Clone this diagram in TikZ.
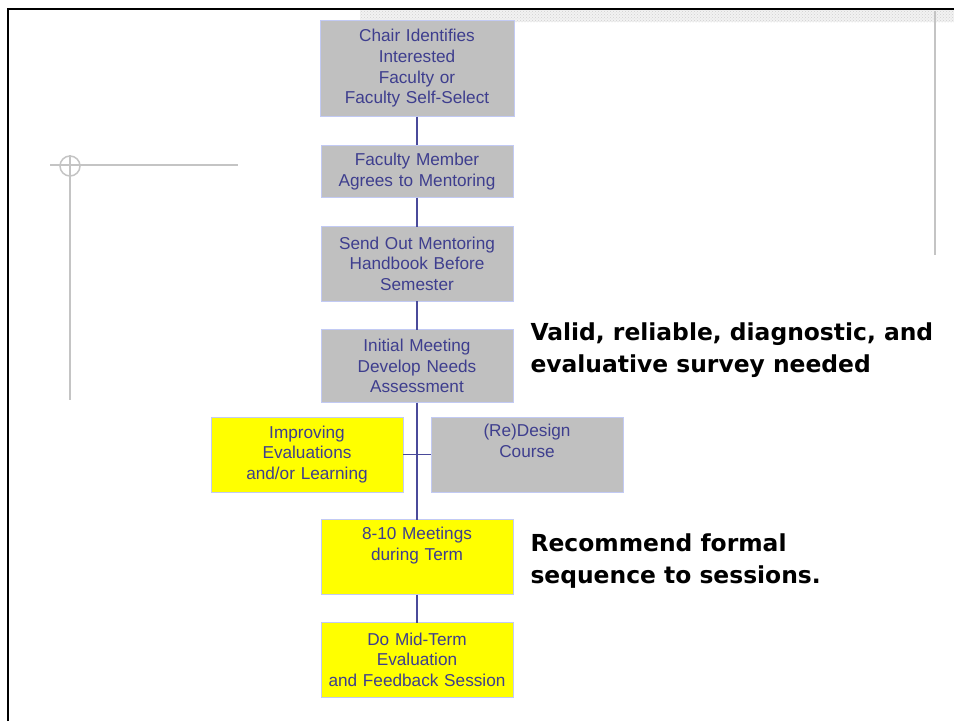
\documentclass[tikz,border=0pt]{standalone}
\usepackage{fontspec}
\setmainfont{Liberation Sans}
\newfontfamily\notefont{DejaVu Sans}
\usepackage{tikz}
\usetikzlibrary{positioning,patterns}

\definecolor{boxgray}{HTML}{C0C0C0}
\definecolor{boxyellow}{HTML}{FFFF00}
\definecolor{boxline}{HTML}{C2CAF4}
\definecolor{boxtext}{HTML}{3E3E8E}
\definecolor{linkline}{HTML}{4A4A9A}
\definecolor{guide}{HTML}{C4C4C4}

\begin{document}
\begin{tikzpicture}[x=1pt,y=-1pt,
            stage/.style={draw=boxline,line width=1pt,text=boxtext,text width=186pt,
              align=center,inner xsep=3pt,inner ysep=6pt,minimum height=74.5pt,outer sep=0pt,
              font=\fontsize{17.2}{20.7}\selectfont},
            graybox/.style={stage,fill=boxgray},
            yellowbox/.style={stage,fill=boxyellow},
            note/.style={align=left,anchor=west,font=\notefont\bfseries\fontsize{23.4}{32}\selectfont},
            guideline/.style={draw=guide,line width=1.5pt},
            link/.style={draw=linkline,line width=1.6pt}
          ]
          \useasboundingbox (0,0) rectangle (954,721);

          %slide frame
          \fill[black!5] (360,10) rectangle (954,22);
          \fill[pattern=crosshatch dots,pattern color=black!18] (360,10) rectangle (954,22);
          \draw[line width=2.2pt] (8,721) -- (8,9) -- (954,9);
          \draw[guideline] (935,11) -- (935,255);
          \draw[guideline] (50,165) -- (238,165);
          \draw[guideline] (70,155) -- (70,400);
          \draw[guideline] (70,166) circle (10);

          %stages
          \node[graybox,anchor=north,text width=188pt,minimum height=96.5pt] (chair) at (417,20) {Chair Identifies\\Interested\\Faculty or\\Faculty Self-Select};
          \node[graybox,below=28.5pt of chair,minimum height=52.5pt] (member) {Faculty Member\\Agrees to Mentoring};
          \node[graybox,below=29pt of member] (handbook) {Send Out Mentoring\\Handbook Before\\Semester};
          \node[graybox,below=28.5pt of handbook,minimum height=73pt] (initial) {Initial Meeting\\Develop Needs\\Assessment};
          \node[yellowbox,below=14.5pt of initial.south,xshift=-110pt,minimum height=75pt] (improving) {Improving\\Evaluations\\and/or Learning};
          \node[graybox,below=14.5pt of initial.south,xshift=110pt,minimum height=75pt] (redesign) {(Re)Design\\Course\\\strut};
          \node[yellowbox,below=27.5pt of initial.south |- improving.south,minimum height=75pt] (meetings) {8-10 Meetings\\during Term\\\strut};
          \node[yellowbox,below=28pt of meetings] (midterm) {Do Mid-Term\\Evaluation\\and Feedback Session};

          %notes
          \node[note] (survey) at (527,350) {Valid, reliable, diagnostic, and\\evaluative survey needed};
          \node[note] (sequence) at (527,561) {Recommend formal\\sequence to sessions.};

          %links
          \draw[link] (chair) -- (member) -- (handbook) -- (initial) -- (meetings) -- (midterm);
          \draw[link] (improving) -- (redesign);

      \end{tikzpicture}
\end{document}
